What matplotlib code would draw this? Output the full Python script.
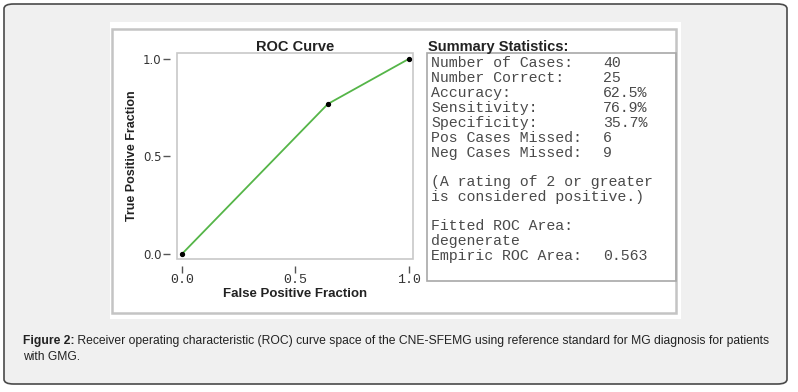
import matplotlib
matplotlib.use("Agg")
import matplotlib.pyplot as plt
from matplotlib.patches import FancyBboxPatch, Rectangle

# ROC points (false positive fraction, true positive fraction)
fpf = [0.0, 0.643, 1.0]
tpf = [0.0, 0.769, 1.0]

x_ticks = [0.0, 0.5, 1.0]
y_ticks = [0.0, 0.5, 1.0]

stat_labels = ["Number of Cases:", "Number Correct:", "Accuracy:", "Sensitivity:",
               "Specificity:", "Pos Cases Missed:", "Neg Cases Missed:"]
stat_values = ["40", "25", "62.5%", "76.9%", "35.7%", "6", "9"]
note_lines = ["(A rating of 2 or greater", "is considered positive.)"]
area_lines = ["Fitted ROC Area:", "degenerate"]
empiric_label = "Empiric ROC Area:"
empiric_value = "0.563"

caption_bold = "Figure 2:"
caption_rest = (" Receiver operating characteristic (ROC) curve space of the CNE-SFEMG "
                "using reference standard for MG diagnosis for patients")
caption_line2 = "with GMG."

W, H = 798, 392
fig = plt.figure(figsize=(W / 100, H / 100), dpi=100)
fig.patch.set_facecolor("white")


def fx(x):
    return x / W


def fy(y):
    return 1 - y / H


# outer rounded panel
fig.patches.append(FancyBboxPatch((fx(4), fy(384)), fx(783), 380 / H,
                                  boxstyle="round,pad=0,rounding_size=0.012",
                                  transform=fig.transFigure, facecolor="#f0f0f0",
                                  edgecolor="#4a4a4a", linewidth=1.2, zorder=-3))
# white image area and its grey frame
fig.patches.append(Rectangle((fx(110), fy(319)), fx(571), 297 / H, transform=fig.transFigure,
                             facecolor="white", edgecolor="none", zorder=-2))
fig.patches.append(Rectangle((fx(112), fy(313)), fx(564), 284 / H, transform=fig.transFigure,
                             facecolor="none", edgecolor="#c4c4c4", linewidth=1.8, zorder=-1))

sans = "Liberation Sans"

# ROC axes
ax = fig.add_axes([fx(177), fy(259), fx(236), 206 / H])
ax.set_facecolor("white")
ax.plot(fpf, tpf, color="#55b548", linewidth=1.3, zorder=2)
ax.plot(fpf, tpf, "o", color="black", markersize=2.8, zorder=3)
ax.set_xlim(-0.022, 1.018)
ax.set_ylim(-0.026, 1.03)
for s in ["top", "right"]:
    ax.spines[s].set_visible(False)
for s in ["left", "bottom"]:
    ax.spines[s].set_position(("outward", 5))
    ax.spines[s].set_visible(False)
ax.add_patch(Rectangle((0, 0), 1, 1, transform=ax.transAxes, facecolor="none",
                       edgecolor="#c8c8c8", linewidth=1.2, clip_on=False))
ax.set_xticks(x_ticks)
ax.set_yticks(y_ticks)
ax.set_xticklabels([f"{v:.1f}" for v in x_ticks], fontfamily="Liberation Mono", fontsize=9.5)
ax.set_yticklabels([f"{v:.1f}" for v in y_ticks], fontfamily="DejaVu Sans", fontsize=8.5)
ax.tick_params(axis="both", direction="out", length=5, width=1, color="#555555",
               labelcolor="#333333", pad=1)
ax.set_xlabel("False Positive Fraction", fontfamily=sans, fontsize=9.5, fontweight="bold",
              labelpad=1, color="#222222")
ax.set_ylabel("True Positive Fraction", fontfamily=sans, fontsize=9, fontweight="bold",
              labelpad=4, color="#222222")
fig.text(fx(295), fy(51), "ROC Curve", ha="center", va="baseline", fontfamily=sans,
         fontsize=10.5, fontweight="bold", color="#222222")

# summary statistics panel
fig.text(fx(428), fy(51), "Summary Statistics:", ha="left", va="baseline", fontfamily=sans,
         fontsize=10.5, fontweight="bold", color="#222222")
fig.patches.append(Rectangle((fx(427), fy(281)), fx(249), 228 / H, transform=fig.transFigure,
                             facecolor="none", edgecolor="#a8a8a8", linewidth=1.2, zorder=-1))

mono = dict(fontfamily="Liberation Mono", fontsize=10.7, color="#4a4a4a", va="baseline")
y = 67
for lab, val in zip(stat_labels, stat_values):
    fig.text(fx(431), fy(y), lab, ha="left", **mono)
    fig.text(fx(603), fy(y), val, ha="left", **mono)
    y += 15
y += 14
for line in note_lines:
    fig.text(fx(431), fy(y), line, ha="left", **mono)
    y += 15
y += 14
for line in area_lines:
    fig.text(fx(431), fy(y), line, ha="left", **mono)
    y += 15
fig.text(fx(431), fy(y), empiric_label, ha="left", **mono)
fig.text(fx(603), fy(y), empiric_value, ha="left", **mono)

# caption
cap = dict(fontfamily=sans, fontsize=8.7, color="#222222", va="baseline")
t = fig.text(fx(23), fy(344), caption_bold, ha="left", fontweight="bold", **cap)
fig.canvas.draw()
bb = t.get_window_extent()
fig.text(bb.x1 / W, fy(344), caption_rest, ha="left", **cap)
fig.text(fx(23), fy(360), caption_line2, ha="left", **cap)

fig.savefig("out.png", dpi=100)
